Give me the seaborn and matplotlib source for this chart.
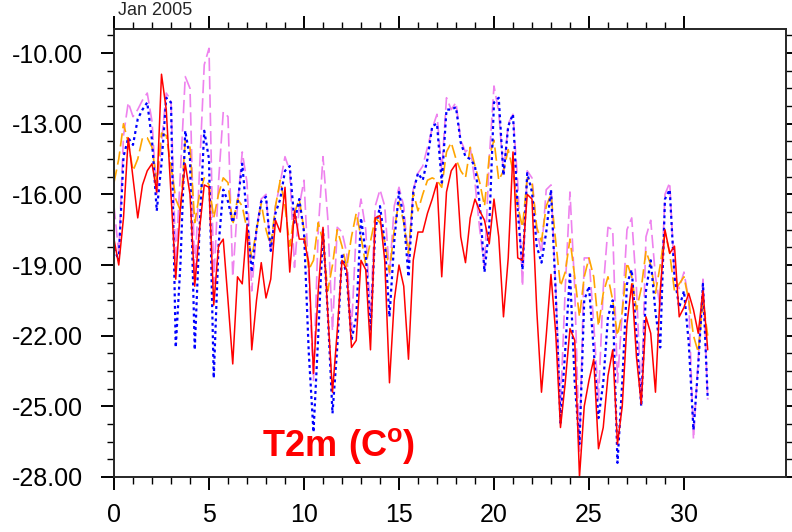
import numpy as np
import seaborn as sns
import matplotlib
matplotlib.use("Agg")
import matplotlib.pyplot as plt
from matplotlib.ticker import FixedLocator, FormatStrFormatter

# 6-hourly 2m temperature, Jan 2005 (4 values per day)
red = [
    -17.9, -19.0, -17.0, -13.6,
    -15.3, -17.0, -15.6, -15.0,
    -14.7, -15.9, -10.9, -12.4,
    -16.0, -19.6, -16.5, -14.7,
    -16.0, -19.9, -17.5, -15.6,
    -15.7, -20.7, -18.2, -17.9,
    -20.5, -23.2, -19.5, -19.8,
    -17.3, -22.6, -20.5, -18.9,
    -20.4, -19.6, -17.1, -17.6,
    -15.7, -19.3, -16.7, -17.9,
    -17.9, -18.9, -23.6, -20.1,
    -17.4, -21.0, -24.4, -21.8,
    -18.8, -19.2, -22.5, -22.2,
    -18.8, -19.2, -22.6, -17.0,
    -16.9, -18.8, -24.0, -20.5,
    -19.0, -19.9, -23.0, -18.8,
    -17.6, -17.6, -16.8, -16.2,
    -15.5, -19.5, -15.9, -15.0,
    -14.7, -17.8, -18.9, -17.0,
    -16.2, -16.7, -17.1, -18.1,
    -16.2, -17.8, -21.2, -18.7,
    -14.2, -18.7, -18.8, -16.0,
    -16.2, -20.9, -24.4, -22.0,
    -19.4, -21.9, -25.9, -24.0,
    -21.7, -22.2, -28.0, -25.0,
    -23.9, -23.0, -26.8, -25.9,
    -23.7, -22.6, -26.6, -25.0,
    -21.5, -19.8, -22.9, -24.9,
    -21.2, -21.9, -24.4, -20.1,
    -17.5, -18.5, -18.2, -21.2,
    -20.8, -20.2, -20.9, -21.9,
    -20.1, -22.6,
]

blue = [
    -18.3, -18.8, -14.4, -13.6,
    -13.9, -12.8, -12.4, -12.1,
    -13.7, -16.7, -14.7, -11.9,
    -12.1, -22.5, -18.9, -13.3,
    -14.5, -22.6, -17.5, -13.3,
    -14.5, -23.8, -18.2, -15.8,
    -16.3, -17.2, -16.4, -14.7,
    -17.0, -19.3, -17.5, -16.3,
    -16.1, -18.4, -16.8, -16.2,
    -15.0, -14.8, -17.2, -16.2,
    -17.6, -22.7, -26.1, -22.0,
    -17.5, -21.0, -25.3, -22.5,
    -18.5, -19.5, -22.2, -21.2,
    -17.0, -18.5, -21.8, -17.5,
    -16.5, -18.0, -21.2, -18.0,
    -15.9, -17.0, -19.5, -15.9,
    -15.1, -15.4, -14.5, -13.1,
    -13.0, -15.5, -12.4, -12.4,
    -12.3, -13.8, -14.4, -14.5,
    -14.8, -16.4, -19.3, -17.4,
    -12.1, -11.9, -15.2, -13.1,
    -12.6, -16.7, -19.2, -15.1,
    -15.9, -18.2, -18.9, -17.6,
    -15.8, -20.2, -25.7, -22.6,
    -19.3, -24.0, -26.6, -20.5,
    -19.9, -22.6, -25.5, -24.0,
    -21.2, -20.5, -27.4, -24.0,
    -19.8, -19.2, -22.0, -25.0,
    -20.1, -18.8, -21.0, -22.5,
    -16.2, -15.8, -19.5, -20.8,
    -20.1, -22.3, -26.0, -23.3,
    -19.8, -24.7,
]

orange = [
    -15.5, -14.5, -13.0, -13.8,
    -15.0, -14.5, -13.6, -13.6,
    -14.0, -15.5, -13.4, -13.5,
    -14.8, -16.2, -16.7, -13.7,
    -14.0, -17.2, -16.0, -15.3,
    -15.6, -17.0, -16.0, -15.3,
    -15.5, -17.3, -16.2, -16.5,
    -17.5, -18.7, -17.5, -16.4,
    -17.5, -18.2, -16.5, -15.4,
    -16.5, -18.2, -16.8, -16.2,
    -17.5, -19.2, -18.8, -17.2,
    -18.0, -20.1, -19.0, -17.5,
    -18.2, -19.1, -17.8, -16.8,
    -17.8, -19.0, -18.0, -17.0,
    -17.2, -18.0, -19.3, -17.5,
    -16.3, -17.2, -18.5, -15.9,
    -16.7, -16.0, -15.4, -15.3,
    -15.4, -15.7, -14.2, -13.8,
    -14.5, -15.0, -15.3, -14.0,
    -14.8, -15.5, -16.5, -14.4,
    -13.7, -15.4, -15.0, -14.1,
    -15.0, -16.5, -17.4, -15.3,
    -15.5, -17.4, -18.0, -16.5,
    -16.0, -18.0, -19.9, -19.3,
    -17.9, -19.5, -21.2, -19.5,
    -18.7, -19.5, -21.6, -20.2,
    -19.5, -20.5, -22.0, -21.0,
    -18.9, -19.5, -20.9, -20.0,
    -18.4, -19.0, -20.2, -19.0,
    -17.6, -18.5, -20.1, -19.8,
    -19.5, -20.5, -22.0, -22.7,
    -20.5, -22.0,
]

violet = [
    -16.5, -18.5, -13.5, -12.1,
    -12.7, -12.4, -12.0, -11.7,
    -12.9, -16.1, -13.8, -11.7,
    -12.0, -18.9, -15.0, -11.0,
    -11.5, -19.5, -15.0, -10.5,
    -9.8, -19.8, -15.5, -12.5,
    -12.7, -19.5, -16.5, -14.2,
    -15.5, -20.1, -17.5, -16.2,
    -16.0, -18.5, -16.5, -15.5,
    -14.4, -15.0, -19.1, -16.5,
    -15.4, -19.5, -23.9, -17.5,
    -14.4, -17.0, -21.8, -17.4,
    -17.6, -18.5, -21.8, -17.5,
    -16.2, -17.5, -21.2, -16.5,
    -15.8, -16.5, -19.4, -16.5,
    -15.7, -16.5, -18.8, -15.8,
    -15.1, -14.8, -14.0, -13.2,
    -12.6, -15.0, -11.9, -12.4,
    -12.1, -13.7, -14.2, -14.0,
    -15.5, -17.5, -19.1, -14.5,
    -11.4, -12.5, -15.1, -13.0,
    -12.6, -15.5, -19.9, -15.0,
    -15.3, -17.5, -18.5, -15.8,
    -15.6, -20.0, -25.0, -20.0,
    -15.9, -20.0, -26.9, -18.7,
    -18.7, -21.5, -24.7, -20.0,
    -17.4, -17.5, -24.0, -21.0,
    -17.5, -17.0, -20.0, -24.8,
    -17.8, -17.1, -19.5, -20.8,
    -16.0, -15.5, -19.5, -20.0,
    -19.3, -20.5, -26.4, -23.0,
    -19.6, -24.7,
]

days = np.arange(len(red)) * 0.25

sns.set_style("ticks")
plt.rcParams["font.family"] = ["Liberation Sans", "DejaVu Sans"]
plt.rcParams["mathtext.fontset"] = "custom"
plt.rcParams["mathtext.rm"] = "Liberation Sans"
plt.rcParams["mathtext.bf"] = "Liberation Sans:bold"

fig = plt.figure(figsize=(7.92, 5.32), dpi=100)
ax = fig.add_axes([114 / 792, 1 - 477 / 532, 672 / 792, 448 / 532])

sns.lineplot(x=days, y=violet, color="#EE82EE", lw=1.2, linestyle=(0, (8, 3)), ax=ax)
sns.lineplot(x=days, y=orange, color="#FFA500", lw=1.2, linestyle=(0, (8, 3)), ax=ax)
sns.lineplot(x=days, y=blue, color="#0000FF", lw=1.6, linestyle=(0, (1.3, 1.5)), ax=ax)
sns.lineplot(x=days, y=red, color="#FF0000", lw=1.1, ax=ax)

ax.set_xlim(0, 35.37)
ax.set_ylim(-28, -8.98)
ax.xaxis.set_major_locator(FixedLocator(np.arange(0, 31, 5)))
ax.xaxis.set_minor_locator(FixedLocator(np.arange(0, 31, 1)))
ax.yaxis.set_major_locator(FixedLocator(np.arange(-28, -9, 3)))
ax.yaxis.set_minor_locator(FixedLocator(np.arange(-28, -8.9, 0.75)))
ax.yaxis.set_major_formatter(FormatStrFormatter("%.2f"))

for sp in ax.spines.values():
    sp.set_visible(True)
    sp.set_linewidth(1.4)
ax.tick_params(which="both", direction="out", top=True, right=True,
               labeltop=False, labelright=False, colors="black")
ax.tick_params(which="major", length=9.5, width=1.4, labelsize=18)
ax.tick_params(which="minor", length=5, width=1.0)
ax.tick_params(axis="y", which="major", pad=13)
ax.tick_params(axis="x", which="major", pad=9)

ax.text(7.8, -27.1, r"$\mathbf{T2m\ (C^{o})}$", color="#FF0000",
        fontsize=26, ha="left", va="baseline")

fig.text(118 / 792, 1 - 2 / 532, "Jan 2005", fontsize=13,
         ha="left", va="top")

ax.set_xlabel("")
ax.set_ylabel("")
fig.savefig("out.png", dpi=100)
